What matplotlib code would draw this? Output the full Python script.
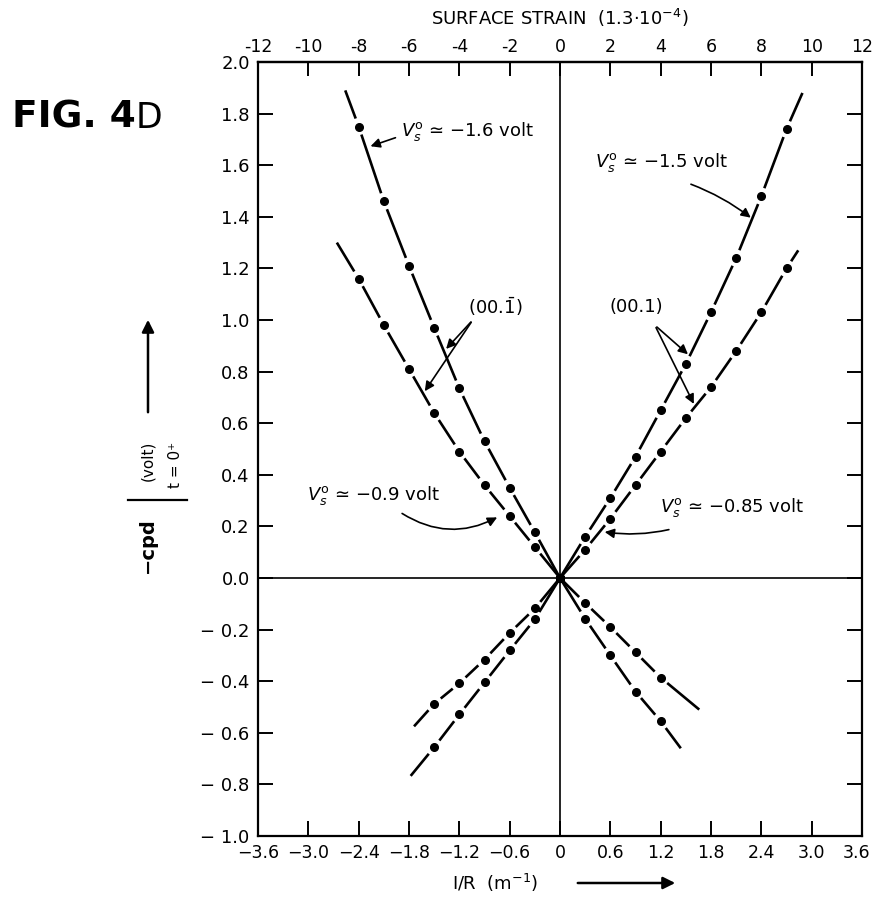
import numpy as np
import matplotlib
matplotlib.use("Agg")
import matplotlib.pyplot as plt
from matplotlib.lines import Line2D
from matplotlib.patches import FancyArrowPatch
from matplotlib.transforms import ScaledTranslation

plt.rcParams['font.family'] = ['DejaVu Sans']
plt.rcParams['mathtext.fontset'] = 'dejavusans'

# 1/R (m^-1) values of the measured points, origin first
x_neg = [0.0, -0.3, -0.6, -0.9, -1.2, -1.5, -1.8, -2.1, -2.4]
x_pos = [0.0, 0.3, 0.6, 0.9, 1.2, 1.5, 1.8, 2.1, 2.4, 2.7]
x_neg_low = [0.0, -0.3, -0.6, -0.9, -1.2, -1.5]
x_pos_low = [0.0, 0.3, 0.6, 0.9, 1.2]

# -cpd (volt)
y_m16 = [0.0, 0.177, 0.35, 0.53, 0.735, 0.97, 1.21, 1.46, 1.75]   # Vs ~ -1.6 volt
y_m09 = [0.0, 0.12, 0.24, 0.36, 0.49, 0.64, 0.81, 0.98, 1.16]     # Vs ~ -0.9 volt
y_m15 = [0.0, 0.16, 0.31, 0.47, 0.65, 0.83, 1.03, 1.24, 1.48, 1.74]  # Vs ~ -1.5 volt
y_m085 = [0.0, 0.11, 0.23, 0.36, 0.49, 0.62, 0.74, 0.88, 1.03, 1.20]  # Vs ~ -0.85 volt
y_low_l1 = [0.0, -0.118, -0.213, -0.316, -0.408, -0.488]
y_low_l2 = [0.0, -0.16, -0.281, -0.405, -0.529, -0.656]
y_low_r1 = [0.0, -0.097, -0.19, -0.288, -0.386]
y_low_r2 = [0.0, -0.158, -0.30, -0.44, -0.555]

# where each drawn curve stops beyond its last point
end_m16 = (-2.56, 1.89)
end_m09 = (-2.66, 1.30)
end_m15 = (2.89, 1.88)
end_m085 = (2.84, 1.27)
end_low_l1 = (-1.74, -0.575)
end_low_l2 = (-1.78, -0.767)
end_low_r1 = (1.66, -0.51)
end_low_r2 = (1.44, -0.66)

y_ticks = np.round(np.arange(-1.0, 2.01, 0.2), 1)
y_labels = ['− 1.0', '− 0.8', '− 0.6', '− 0.4', '− 0.2', '0.0', '0.2', '0.4',
            '0.6', '0.8', '1.0', '1.2', '1.4', '1.6', '1.8', '2.0']
x_ticks = np.round(np.arange(-3.6, 3.61, 0.6), 1)
x_labels = ['−3.6', '−3.0', '−2.4', '−1.8', '−1.2', '−0.6', '0',
            '0.6', '1.2', '1.8', '2.4', '3.0', '3.6']
strain_ticks = list(range(-12, 13, 2))
strain_labels = [str(s) for s in strain_ticks]

W, H = 874, 899
fig = plt.figure(figsize=(W / 100, H / 100), dpi=100)
ax = fig.add_axes([258 / W, 1 - 836 / H, (862 - 258) / W, (836 - 62) / H])
ax.set_xlim(-3.6, 3.6)
ax.set_ylim(-1.0, 2.0)

for sp in ax.spines.values():
    sp.set_linewidth(1.6)
ax.axhline(0, color='black', lw=1.2)
ax.axvline(0, color='black', lw=1.2)

ax.set_yticks(y_ticks)
ax.set_yticklabels(y_labels, fontsize=13)
ax.set_xticks(x_ticks)
ax.set_xticklabels(x_labels, fontsize=12.5)
ax.tick_params(axis='both', direction='in', length=11, width=1.4, right=True, pad=6)
# keep the last bottom label inside the picture
last = ax.get_xticklabels()[-1]
last.set_transform(last.get_transform() + ScaledTranslation(-5 / 100, 0, fig.dpi_scale_trans))

sec = ax.secondary_xaxis('top', functions=(lambda v: v / 0.3, lambda s: s * 0.3))
sec.set_xticks(strain_ticks)
sec.set_xticklabels(strain_labels, fontsize=12.5)
sec.tick_params(direction='in', length=10, width=1.4, pad=4)
sec.spines['top'].set_linewidth(1.6)

fig.canvas.draw()


def draw_curve(xs, ys, end, gap=8.5):
    ax.plot(xs, ys, 'o', color='black', ms=5.5, zorder=3)
    pts = ax.transData.transform(np.column_stack([xs + [end[0]], ys + [end[1]]]))
    inv = ax.transData.inverted()
    n = len(pts)
    for i in range(n - 1):
        p0, p1 = pts[i], pts[i + 1]
        d = p1 - p0
        u = d / np.hypot(*d)
        a = p0 + u * (2.0 if i == 0 else gap)
        b = p1 - u * gap if i + 1 < n - 1 else p1
        seg = inv.transform(np.vstack([a, b]))
        ax.plot(seg[:, 0], seg[:, 1], color='black', lw=1.9, solid_capstyle='butt')


draw_curve(x_neg, y_m16, end_m16)
draw_curve(x_neg, y_m09, end_m09)
draw_curve(x_pos, y_m15, end_m15)
draw_curve(x_pos, y_m085, end_m085)
draw_curve(x_neg_low, y_low_l1, end_low_l1)
draw_curve(x_neg_low, y_low_l2, end_low_l2)
draw_curve(x_pos_low, y_low_r1, end_low_r1)
draw_curve(x_pos_low, y_low_r2, end_low_r2)

arrow = dict(arrowstyle='-|>', color='black', lw=1.2, mutation_scale=14)
vs = r'$V_s^{\mathrm{o}}$'

ax.text(-1.90, 1.73, vs + ' ≃ −1.6 volt', fontsize=13, ha='left', va='center')
ax.annotate('', xy=(-2.29, 1.67), xytext=(-1.93, 1.71), arrowprops=arrow)

ax.text(0.42, 1.61, vs + ' ≃ −1.5 volt', fontsize=13, ha='left', va='center')
ax.annotate('', xy=(2.30, 1.39), xytext=(1.53, 1.53),
            arrowprops=dict(arrow, connectionstyle='arc3,rad=-0.08'))

ax.text(-3.02, 0.32, vs + ' ≃ −0.9 volt', fontsize=13, ha='left', va='center')
ax.annotate('', xy=(-0.72, 0.24), xytext=(-1.91, 0.256),
            arrowprops=dict(arrow, connectionstyle='arc3,rad=0.3'))

ax.text(1.19, 0.275, vs + ' ≃ −0.85 volt', fontsize=13, ha='left', va='center')
ax.annotate('', xy=(0.50, 0.18), xytext=(1.33, 0.19),
            arrowprops=dict(arrow, connectionstyle='arc3,rad=-0.1'))

ax.text(-0.77, 1.05, r'(00.$\bar{1}$)', fontsize=13, ha='center', va='center')
for head in [(-1.38, 0.88), (-1.63, 0.715)]:
    ax.annotate('', xy=head, xytext=(-1.04, 1.00), arrowprops=arrow)
ax.text(0.91, 1.05, '(00.1)', fontsize=13, ha='center', va='center')
for head in [(1.55, 0.86), (1.61, 0.665)]:
    ax.annotate('', xy=head, xytext=(1.13, 0.98), arrowprops=arrow)

# figure level labels
fig.text(0.5 * (258 + 862) / W, 1 - 18 / H, r'SURFACE STRAIN  (1.3$\cdot$10$^{-4}$)',
         fontsize=13, ha='center', va='center')
fig.text(12 / W, 1 - 118 / H, 'FIG. 4', fontsize=27, fontweight='bold',
         ha='left', va='center')
fig.text(136 / W, 1 - 118 / H, 'D', fontsize=25, ha='left', va='center')

fig.text(495 / W, 1 - 883 / H, 'I/R  (m$^{-1}$)', fontsize=13, ha='center', va='center')
fig.add_artist(FancyArrowPatch(
    (575 / W, 1 - 883 / H), (678 / W, 1 - 883 / H), transform=fig.transFigure,
    arrowstyle='-|>', mutation_scale=18, color='black', lw=1.8))

fig.text(147 / W, 1 - 545 / H, '−cpd', fontsize=14, fontweight='bold',
         rotation=90, ha='center', va='center')
fig.add_artist(Line2D([128 / W, 187 / W], [1 - 500 / H, 1 - 500 / H],
                      transform=fig.transFigure, color='black', lw=1.6))
fig.text(148 / W, 1 - 461 / H, '(volt)', fontsize=11, rotation=90,
         ha='center', va='center')
fig.text(176 / W, 1 - 465 / H, 't = 0⁺', fontsize=11, rotation=90,
         ha='center', va='center')
fig.add_artist(FancyArrowPatch(
    (148 / W, 1 - 415 / H), (148 / W, 1 - 317 / H), transform=fig.transFigure,
    arrowstyle='-|>', mutation_scale=18, color='black', lw=1.8))

fig.savefig('out.png', dpi=100)
